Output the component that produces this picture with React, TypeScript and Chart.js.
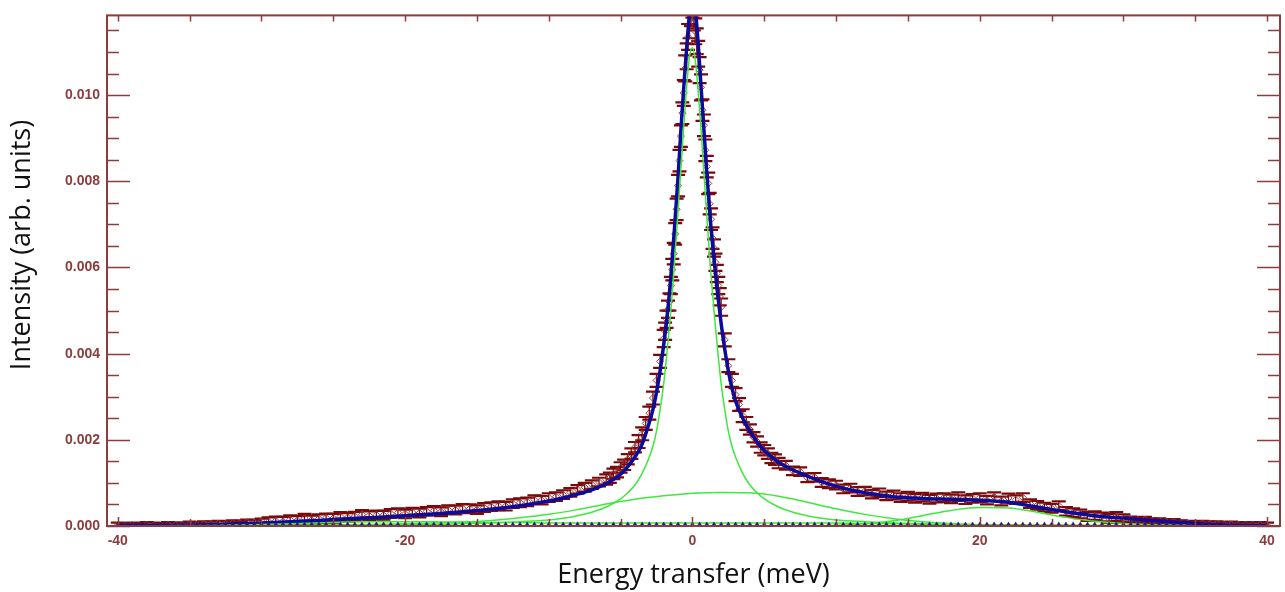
import React, { useEffect, useRef } from "react";
import { Chart, registerables } from "chart.js";

Chart.register(...registerables);

// ---------- measured data (energy transfer in meV, intensity in arb. units) ----------
const energiesWingLeft = [-40,-39.5,-39,-38.5,-38,-37.5,-37,-36.5,-36,-35.5,-35,-34.5,-34,-33.5,-33,-32.5,-32,-31.5,-31,-30.5,-30,-29.5,-29,-28.5,-28,-27.5,-27,-26.5,-26,-25.5,-25,-24.5,-24,-23.5,-23,-22.5,-22,-21.5,-21,-20.5,-20,-19.5,-19,-18.5,-18,-17.5,-17,-16.5,-16,-15.5,-15,-14.5,-14,-13.5,-13,-12.5,-12,-11.5,-11,-10.5,-10,-9.5,-9,-8.5,-8,-7.5,-7,-6.5];
const intensityWingLeft = [0.00002,0.00001,0.00002,0.00001,0.00003,0.00002,0.00001,0.00003,0.00002,0.00002,0.00004,0.00003,0.00005,0.00004,0.00006,0.00005,0.00007,0.00006,0.00009,0.00008,0.00011,0.0001,0.00012,0.00011,0.00015,0.00013,0.00018,0.00014,0.00017,0.00019,0.00018,0.00022,0.0002,0.00023,0.00027,0.00024,0.00026,0.00025,0.00029,0.00031,0.00028,0.00032,0.0003,0.00034,0.00036,0.00033,0.00038,0.00037,0.00041,0.0004,0.00038,0.00043,0.00045,0.00047,0.00046,0.00052,0.00054,0.00056,0.00061,0.0006,0.00066,0.00068,0.00073,0.00078,0.00085,0.0009,0.00096,0.00102];
const errorsWingLeft = [0.00006,0.00006,0.00006,0.00006,0.00006,0.00006,0.00006,0.00006,0.00006,0.00006,0.00006,0.00006,0.00006,0.00006,0.00006,0.00006,0.00006,0.00006,0.00006,0.00006,0.00006,0.0001,0.0001,0.0001,0.0001,0.0001,0.0001,0.0001,0.0001,0.0001,0.0001,0.0001,0.0001,0.0001,0.0001,0.0001,0.0001,0.0001,0.0001,0.0001,0.0001,0.0001,0.0001,0.0001,0.0001,0.0001,0.0001,0.0001,0.0001,0.0001,0.0001,0.0001,0.0001,0.0001,0.0001,0.0001,0.0001,0.0001,0.0001,0.0001,0.0001,0.0001,0.0001,0.0001,0.0001,0.0001,0.0001,0.0001];

const energiesMidLeft = [-6,-5.75,-5.5,-5.25,-5,-4.75,-4.5,-4.25,-4,-3.75,-3.5,-3.25,-3,-2.75,-2.5,-2.25];
const intensityMidLeft = [0.00108,0.00112,0.00121,0.00125,0.00136,0.00142,0.00155,0.00168,0.00183,0.00196,0.00214,0.00238,0.00262,0.00297,0.00338,0.00382];
const errorsMidLeft = [0.00012,0.00012,0.00012,0.00012,0.00012,0.00012,0.00012,0.00012,0.00012,0.00015,0.00015,0.00015,0.00015,0.00015,0.00015,0.00015];

const energiesCore = [-2,-1.9,-1.8,-1.7,-1.6,-1.5,-1.4,-1.3,-1.2,-1.1,-1,-0.9,-0.8,-0.7,-0.6,-0.5,-0.4,-0.3,-0.2,-0.1,0,0.1,0.2,0.3,0.4,0.5,0.6,0.7,0.8,0.9,1,1.1,1.2,1.3,1.4,1.5,1.6,1.7,1.8,1.9,2];
const intensityCore = [0.00435,0.00452,0.0048,0.00503,0.0052,0.00558,0.00595,0.00632,0.00678,0.00735,0.0079,0.00848,0.00905,0.00958,0.01005,0.01062,0.0109,0.01135,0.01162,0.0119,0.0121,0.0118,0.01148,0.01125,0.01096,0.01058,0.01018,0.00965,0.0093,0.00872,0.00834,0.00795,0.00748,0.00712,0.00668,0.00645,0.00612,0.00586,0.00558,0.00532,0.00508];
const errorsCore = [0.0002,0.0002,0.0002,0.0002,0.0002,0.0002,0.00025,0.00025,0.00025,0.00025,0.00025,0.00025,0.00025,0.00025,0.0003,0.0003,0.0003,0.0003,0.0003,0.0003,0.0003,0.0003,0.0003,0.0003,0.0003,0.0003,0.0003,0.00025,0.00025,0.00025,0.00025,0.00025,0.00025,0.00025,0.00025,0.0002,0.0002,0.0002,0.0002,0.0002,0.0002];

const energiesMidRight = [2.25,2.5,2.75,3,3.25,3.5,3.75,4,4.25,4.5,4.75,5,5.25,5.5,5.75,6];
const intensityMidRight = [0.00432,0.00372,0.00338,0.00305,0.00282,0.00256,0.00238,0.00224,0.00206,0.00196,0.00182,0.00176,0.00168,0.00158,0.00154,0.00146];
const errorsMidRight = [0.00015,0.00015,0.00015,0.00015,0.00015,0.00015,0.00015,0.00012,0.00012,0.00012,0.00012,0.00012,0.00012,0.00012,0.00012,0.00012];

const energiesWingRight = [6.5,7,7.5,8,8.5,9,9.5,10,10.5,11,11.5,12,12.5,13,13.5,14,14.5,15,15.5,16,16.5,17,17.5,18,18.5,19,19.5,20,20.5,21,21.5,22,22.5,23,23.5,24,24.5,25,25.5,26,26.5,27,27.5,28,28.5,29,29.5,30,30.5,31,31.5,32,32.5,33,33.5,34,34.5,35,35.5,36,36.5,37,37.5,38,38.5,39,39.5,40];
const intensityWingRight = [0.00141,0.00128,0.00126,0.00112,0.00113,0.00101,0.00098,0.00095,0.00086,0.00088,0.0008,0.00081,0.00074,0.00077,0.0007,0.00072,0.00066,0.00069,0.00064,0.00067,0.00062,0.00065,0.00066,0.00063,0.00068,0.00061,0.00064,0.00066,0.0006,0.00068,0.00058,0.00065,0.00061,0.00066,0.00052,0.00048,0.00044,0.00041,0.00047,0.00034,0.00031,0.00028,0.00022,0.00024,0.00021,0.00018,0.00022,0.00017,0.00016,0.00014,0.00015,0.00011,0.00012,0.00009,0.0001,0.00007,0.00006,0.00005,0.00006,0.00004,0.00005,0.00003,0.00004,0.00002,0.00003,0.00002,0.00003,0.00002];
const errorsWingRight = [0.0001,0.0001,0.0001,0.0001,0.0001,0.0001,0.0001,0.0001,0.0001,0.0001,0.0001,0.0001,0.0001,0.0001,0.0001,0.0001,0.0001,0.0001,0.0001,0.0001,0.0001,0.0001,0.0001,0.0001,0.0001,0.0001,0.0001,0.0001,0.0001,0.0001,0.0001,0.0001,0.0001,0.0001,0.0001,0.0001,0.0001,0.0001,0.0001,0.0001,0.0001,0.0001,0.0001,0.0001,0.0001,0.0001,0.0001,0.0001,0.00006,0.00006,0.00006,0.00006,0.00006,0.00006,0.00006,0.00006,0.00006,0.00006,0.00006,0.00006,0.00006,0.00006,0.00006,0.00006,0.00006,0.00006,0.00006,0.00006];

// ---------- fit: total and narrow (quasi-elastic) component ----------
const fitEnergy = [-40,-38,-36,-34,-32,-30,-28,-26,-24,-22,-20,-18,-16,-14,-12,-10,-9,-8,-7,-6,-5,-4.5,-4,-3.5,-3,-2.75,-2.5,-2.25,-2,-1.75,-1.5,-1.25,-1,-0.8,-0.6,-0.4,-0.2,0,0.2,0.4,0.6,0.8,1,1.25,1.5,1.75,2,2.25,2.5,2.75,3,3.5,4,4.5,5,6,7,8,9,10,12,14,16,18,20,22,24,26,28,30,32,34,36,38,40];
const fitTotal = [0.00001,0.00001,0.00002,0.00003,0.00005,0.00007,0.0001,0.00013,0.00017,0.0002,0.00024,0.00028,0.00033,0.00039,0.00047,0.00058,0.00065,0.00074,0.00084,0.00098,0.0012,0.00138,0.0016,0.0019,0.0024,0.0027,0.0031,0.0036,0.0042,0.0049,0.0058,0.0069,0.0081,0.0092,0.0102,0.0111,0.0119,0.0124,0.012,0.0112,0.0102,0.0092,0.0082,0.0071,0.0062,0.0054,0.0047,0.0041,0.0036,0.0032,0.0029,0.0025,0.0022,0.00195,0.00175,0.00148,0.0013,0.00116,0.00103,0.00092,0.00077,0.00068,0.00064,0.00062,0.0006,0.00055,0.00044,0.00033,0.00024,0.00018,0.00013,0.00008,0.00004,0.00002,0.00001];
const fitNarrow = [0,0,0.00001,0.00001,0.00001,0.00001,0.00002,0.00002,0.00002,0.00003,0.00003,0.00004,0.00005,0.00007,0.0001,0.00014,0.00018,0.00024,0.00032,0.00044,0.00063,0.00077,0.00095,0.00122,0.0016,0.00185,0.0022,0.0027,0.0033,0.0041,0.005,0.0061,0.0073,0.0083,0.0093,0.0102,0.0109,0.0111,0.0108,0.0101,0.0092,0.0082,0.0072,0.006,0.005,0.0041,0.0033,0.0027,0.0022,0.00185,0.0016,0.00122,0.00095,0.00077,0.00063,0.00044,0.00032,0.00024,0.00018,0.00014,0.0001,0.00007,0.00005,0.00004,0.00003,0.00003,0.00002,0.00002,0.00002,0.00001,0.00001,0.00001,0,0,0];

// ---------- fit: broad, inelastic (~20 meV) and wide components ----------
const compEnergy = [-40,-36,-32,-28,-24,-22,-20,-18,-16,-14,-12,-10,-8,-6,-4,-2,0,2,4,6,8,10,12,14,16,18,20,22,24,26,28,30,32,34,36,40];
const fitBroad = [0,0,0.00001,0.00002,0.00003,0.00004,0.00005,0.00007,0.00009,0.00013,0.00019,0.00027,0.00038,0.00051,0.00062,0.0007,0.00076,0.00078,0.00077,0.00069,0.00055,0.0004,0.00027,0.00017,0.0001,0.00006,0.00003,0.00002,0.00001,0.00001,0,0,0,0,0,0];
const fitInelastic = [0,0,0,0,0,0,0,0,0,0,0,0,0,0,0,0,0,0,0,0,0,0.00002,0.00005,0.00012,0.00024,0.00036,0.00043,0.00042,0.00032,0.0002,0.00011,0.00006,0.00003,0.00001,0,0];
const fitWide = [0,0,0.00002,0.00005,0.00009,0.0001,0.0001,0.0001,0.00009,0.00008,0.00008,0.00007,0.00007,0.00007,0.00007,0.00007,0.00007,0.00007,0.00007,0.00007,0.00007,0.00007,0.00006,0.00005,0.00004,0.00003,0.00002,0.00002,0.00001,0.00001,0,0,0,0,0,0];

// ---------- marker row along the baseline ----------
const maskEnergy = [-40,-39.5,-39,-38.5,-38,-37.5,-37,-36.5,-36,-35.5,-35,-34.5,-34,-33.5,-33,-32.5,-32,-31.5,-31,-30.5,-30,-29.5,-29,-28.5,-28,-27.5,-27,-26.5,-26,-25.5,-25,-24.5,-24,-23.5,-23,-22.5,-22,-21.5,-21,-20.5,-20,-19.5,-19,-18.5,-18,-17.5,-17,-16.5,-16,-15.5,-15,-14.5,-14,-13.5,-13,-12.5,-12,-11.5,-11,-10.5,-10,-9.5,-9,-8.5,-8,-7.5,-7,-6.5,-6,-5.5,-5,-4.5,-4,-3.5,-3,-2.5,-2,-1.5,-1,-0.5,0,0.5,1,1.5,2,2.5,3,3.5,4,4.5,5,5.5,6,6.5,7,7.5,8,8.5,9,9.5,10,10.5,11,11.5,12,12.5,13,13.5,14,14.5,15,15.5,16,16.5,17,17.5,18,18.5,19,19.5,20,20.5,21,21.5,22,22.5,23,23.5,24,24.5,25,25.5,26,26.5,27,27.5,28,28.5,29,29.5,30,30.5,31,31.5,32,32.5,33,33.5,34,34.5,35,35.5,36,36.5,37,37.5,38,38.5,39,39.5,40];
const maskLevel = 0.00003;

const xTitle = "Energy transfer (meV)";
const yTitle = "Intensity (arb. units)";

const energies = [...energiesWingLeft, ...energiesMidLeft, ...energiesCore, ...energiesMidRight, ...energiesWingRight];
const intensity = [...intensityWingLeft, ...intensityMidLeft, ...intensityCore, ...intensityMidRight, ...intensityWingRight];
const errors = [...errorsWingLeft, ...errorsMidLeft, ...errorsCore, ...errorsMidRight, ...errorsWingRight];

const AXIS_COLOR = "#8c3c3c";
const DATA_COLOR = "#7a0a0a";
const FIT_COLOR = "#0b0b9c";
const COMP_COLOR = "#3ee83e";

const pairs = (xs: number[], ys: number[]) => xs.map((x, i) => ({ x, y: ys[i] }));

const decorPlugin = {
  id: "decor",
  beforeDatasetDraw(chart: any, args: any) {
    const ds = chart.data.datasets[args.index];
    if (!ds.errors) return;
    const ys = chart.scales.y;
    const a = chart.chartArea;
    const ctx = chart.ctx;
    ctx.save();
    ctx.beginPath();
    ctx.rect(a.left, a.top, a.right - a.left, a.bottom - a.top);
    ctx.clip();
    ctx.strokeStyle = DATA_COLOR;
    args.meta.data.forEach((pt: any, i: number) => {
      const v = ds.data[i].y;
      const e = ds.errors[i];
      const y1 = ys.getPixelForValue(v + e);
      const y2 = ys.getPixelForValue(v - e);
      ctx.lineWidth = 1.3;
      ctx.beginPath();
      ctx.moveTo(pt.x, y1);
      ctx.lineTo(pt.x, y2);
      ctx.stroke();
      ctx.lineWidth = 2.2;
      ctx.beginPath();
      ctx.moveTo(pt.x - 7, y1);
      ctx.lineTo(pt.x + 7, y1);
      ctx.moveTo(pt.x - 7, y2);
      ctx.lineTo(pt.x + 7, y2);
      ctx.stroke();
    });
    ctx.restore();
  },
  afterDraw(chart: any) {
    const ctx = chart.ctx;
    const a = chart.chartArea;
    const xs = chart.scales.x;
    const ys = chart.scales.y;
    ctx.save();
    ctx.strokeStyle = AXIS_COLOR;
    ctx.lineWidth = 2;
    ctx.strokeRect(a.left, a.top, a.right - a.left, a.bottom - a.top);
    ctx.lineWidth = 1.5;
    ctx.beginPath();
    for (let v = -40; v <= 40; v += 5) {
      const px = Math.round(xs.getPixelForValue(v)) + 0.5;
      const major = v % 20 === 0;
      ctx.moveTo(px, a.bottom);
      ctx.lineTo(px, a.bottom - (major ? 9 : 7));
      ctx.moveTo(px, a.top);
      ctx.lineTo(px, a.top + 6);
    }
    for (let i = 0; i * 0.0005 <= ys.max; i++) {
      const py = Math.round(ys.getPixelForValue(i * 0.0005)) + 0.5;
      const len = i % 4 === 0 ? 23 : 12;
      ctx.moveTo(a.left, py);
      ctx.lineTo(a.left + len, py);
      ctx.moveTo(a.right, py);
      ctx.lineTo(a.right - len, py);
    }
    ctx.stroke();

    ctx.fillStyle = "#111111";
    ctx.font = "27px 'Open Sans'";
    ctx.textAlign = "center";
    ctx.textBaseline = "middle";
    ctx.fillText(xTitle, (a.left + a.right) / 2, 575);
    ctx.translate(22, 245);
    ctx.rotate(-Math.PI / 2);
    ctx.fillText(yTitle, 0, 0);
    ctx.restore();
  },
};

export default function App() {
  const canvasRef = useRef<HTMLCanvasElement | null>(null);

  useEffect(() => {
    const canvas = canvasRef.current;
    if (!canvas) return;
    const tickFont = { family: "'Liberation Sans', Arial, sans-serif", size: 14, weight: "bold" as const };
    const compStyle = {
      type: "scatter" as const,
      showLine: true,
      borderColor: COMP_COLOR,
      borderWidth: 1.5,
      pointRadius: 0,
      cubicInterpolationMode: "monotone" as const,
      order: 1,
    };
    const chart = new Chart(canvas, {
      type: "scatter",
      data: {
        datasets: [
          {
            label: "data",
            data: pairs(energies, intensity),
            errors: errors,
            pointStyle: "rectRot",
            pointRadius: 3.5,
            borderColor: "#9b3b3b",
            borderWidth: 1,
            backgroundColor: "rgba(0,0,0,0)",
            order: 3,
          } as any,
          {
            label: "fit",
            data: pairs(fitEnergy, fitTotal),
            showLine: true,
            borderColor: FIT_COLOR,
            borderWidth: 3.5,
            pointRadius: 0,
            cubicInterpolationMode: "monotone",
            order: 2,
          } as any,
          { ...compStyle, label: "narrow", data: pairs(fitEnergy, fitNarrow) } as any,
          { ...compStyle, label: "broad", data: pairs(compEnergy, fitBroad) } as any,
          { ...compStyle, label: "inelastic", data: pairs(compEnergy, fitInelastic) } as any,
          { ...compStyle, label: "wide", data: pairs(compEnergy, fitWide) } as any,
          {
            label: "mask",
            data: maskEnergy.map((x) => ({ x, y: maskLevel })),
            pointStyle: "triangle",
            pointRadius: 2.8,
            backgroundColor: "#1c1c80",
            borderColor: "#1c1c80",
            borderWidth: 0.5,
            order: 0,
          } as any,
        ],
      },
      options: {
        responsive: false,
        animation: false,
        devicePixelRatio: 1,
        events: [],
        layout: { padding: { top: 12, right: 4, bottom: 0, left: 0 } },
        plugins: { legend: { display: false }, tooltip: { enabled: false } },
        scales: {
          x: {
            type: "linear",
            position: "bottom",
            min: -40.75,
            max: 40.9,
            grid: { display: false, drawTicks: false },
            border: { display: false },
            ticks: {
              stepSize: 20,
              includeBounds: false,
              autoSkip: false,
              maxRotation: 0,
              padding: 7,
              color: AXIS_COLOR,
              font: tickFont,
              callback: (v: any) => String(v),
            },
            afterFit: (s: any) => {
              s.height = 66;
            },
          },
          y: {
            type: "linear",
            position: "left",
            min: 0,
            max: 0.01185,
            grid: { display: false, drawTicks: false },
            border: { display: false },
            ticks: {
              stepSize: 0.002,
              includeBounds: false,
              autoSkip: false,
              padding: 7,
              color: AXIS_COLOR,
              font: tickFont,
              callback: (v: any) => Number(v).toFixed(3),
            },
            afterFit: (s: any) => {
              s.width = 107;
            },
          },
        },
      } as any,
      plugins: [decorPlugin],
    });
    return () => chart.destroy();
  }, []);

  return (
    <div style={{ position: "fixed", left: 0, top: 0, width: 1285, height: 592, background: "#ffffff" }}>
      <canvas ref={canvasRef} width={1285} height={592} style={{ width: 1285, height: 592, display: "block" }} />
    </div>
  );
}
